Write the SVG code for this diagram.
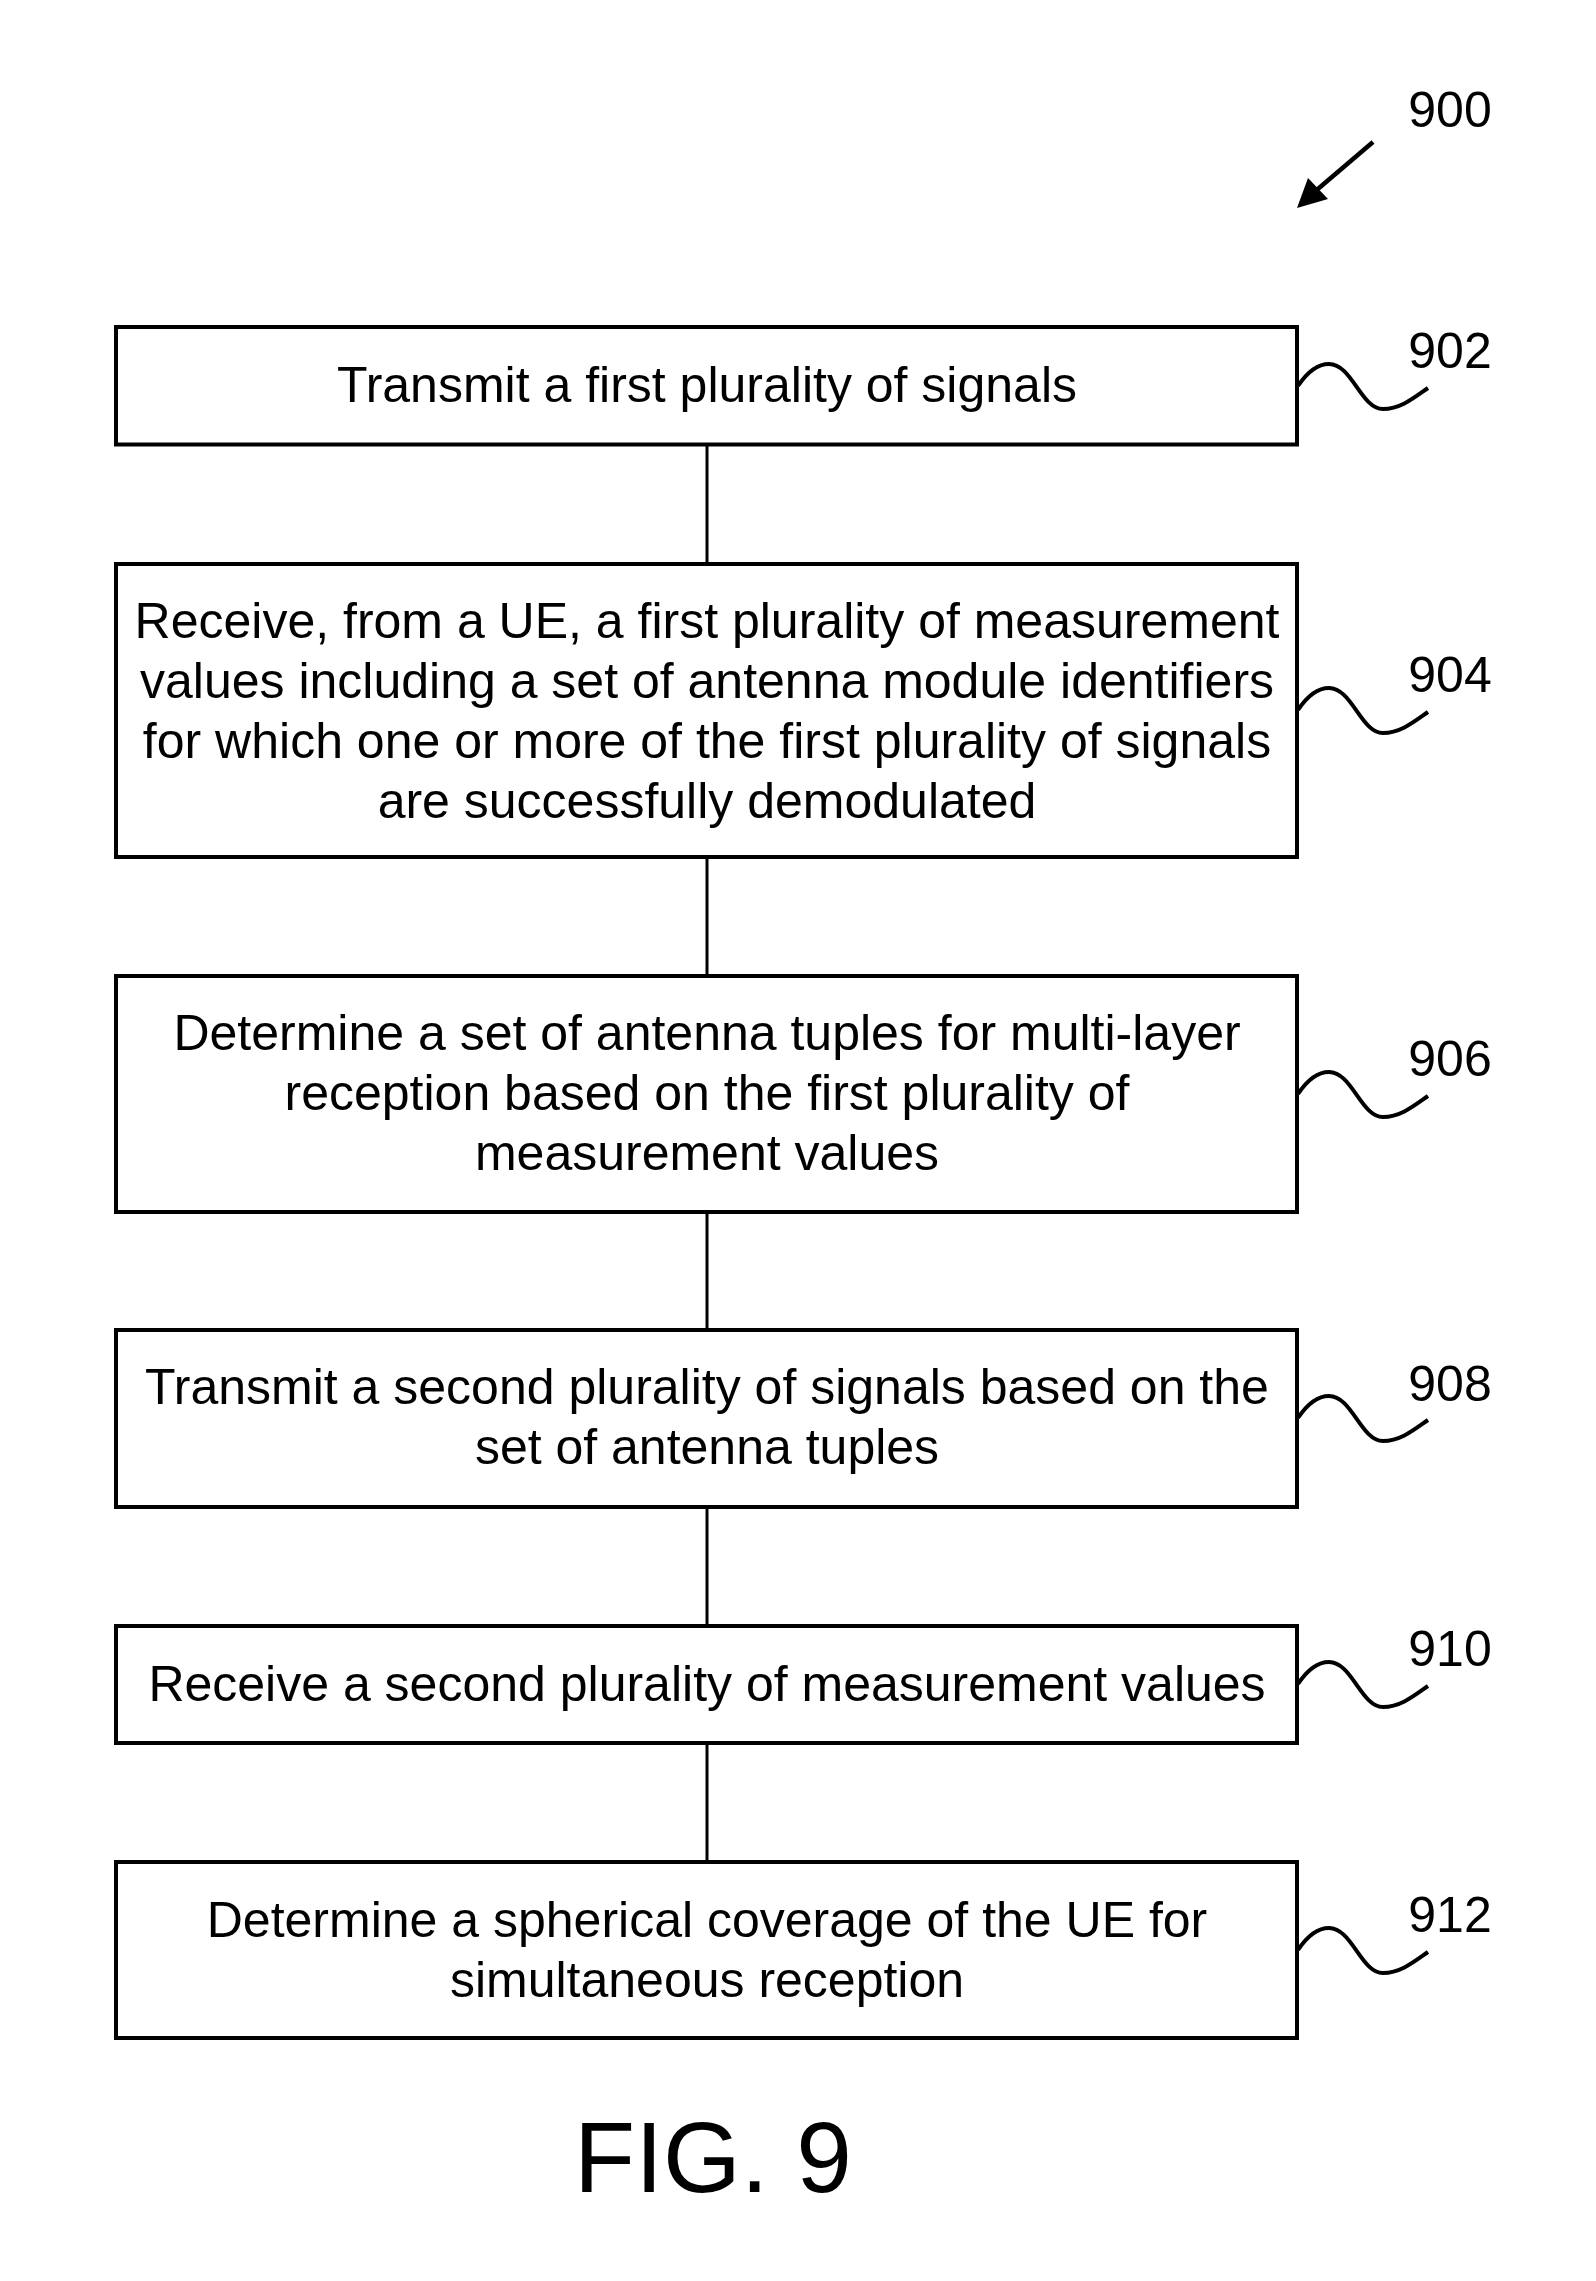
<svg xmlns="http://www.w3.org/2000/svg" width="1596" height="2281" viewBox="0 0 1596 2281">
<style>
.box{fill:#fff;stroke:#000;stroke-width:4}
.t{font-family:"Liberation Sans",Arial,sans-serif;font-size:50px;fill:#000;text-anchor:middle}
.lbl{font-family:"Liberation Sans",Arial,sans-serif;font-size:50px;fill:#000;text-anchor:middle}
.sq{fill:none;stroke:#000;stroke-width:4}
.conn{stroke:#000;stroke-width:3;fill:none}
</style>
<defs>
<path id="squig" d="M0,0 c8,-12 18,-22 31,-22 c23,0 32,45 54,45 c18,0 32,-12 45,-21"/>
</defs>
<rect width="1596" height="2281" fill="#fff"/>
<g id="connectors">
<line class="conn" x1="707" y1="444" x2="707" y2="564"/>
<line class="conn" x1="707" y1="857" x2="707" y2="976"/>
<line class="conn" x1="707" y1="1212" x2="707" y2="1330"/>
<line class="conn" x1="707" y1="1507" x2="707" y2="1626"/>
<line class="conn" x1="707" y1="1743" x2="707" y2="1862"/>
</g>
<g id="ref900">
<text class="lbl" x="1450" y="127">900</text>
<line x1="1373" y1="142" x2="1312" y2="194" stroke="#000" stroke-width="4.5"/>
<polygon points="1297,208 1308,178 1328,199" fill="#000"/>
</g>
<g id="n902">
<rect class="box" x="116" y="327" width="1181" height="117.5"/>
<text class="t" x="707" y="402">Transmit a first plurality of signals</text>
<use href="#squig" class="sq" x="1298" y="386"/>
<text class="lbl" x="1450" y="368">902</text>
</g>
<g id="n904">
<rect class="box" x="116" y="564" width="1181" height="293"/>
<text class="t" x="707" y="638">Receive, from a UE, a first plurality of measurement</text>
<text class="t" x="707" y="698">values including a set of antenna module identifiers</text>
<text class="t" x="707" y="758">for which one or more of the first plurality of signals</text>
<text class="t" x="707" y="818">are successfully demodulated</text>
<use href="#squig" class="sq" x="1298" y="710"/>
<text class="lbl" x="1450" y="692">904</text>
</g>
<g id="n906">
<rect class="box" x="116" y="976" width="1181" height="236"/>
<text class="t" x="707" y="1050">Determine a set of antenna tuples for multi-layer</text>
<text class="t" x="707" y="1110">reception based on the first plurality of</text>
<text class="t" x="707" y="1170">measurement values</text>
<use href="#squig" class="sq" x="1298" y="1094"/>
<text class="lbl" x="1450" y="1076">906</text>
</g>
<g id="n908">
<rect class="box" x="116" y="1330" width="1181" height="177"/>
<text class="t" x="707" y="1404">Transmit a second plurality of signals based on the</text>
<text class="t" x="707" y="1464">set of antenna tuples</text>
<use href="#squig" class="sq" x="1298" y="1418"/>
<text class="lbl" x="1450" y="1401">908</text>
</g>
<g id="n910">
<rect class="box" x="116" y="1626" width="1181" height="117"/>
<text class="t" x="707" y="1701">Receive a second plurality of measurement values</text>
<use href="#squig" class="sq" x="1298" y="1684"/>
<text class="lbl" x="1450" y="1666">910</text>
</g>
<g id="n912">
<rect class="box" x="116" y="1862" width="1181" height="176"/>
<text class="t" x="707" y="1937">Determine a spherical coverage of the UE for</text>
<text class="t" x="707" y="1997">simultaneous reception</text>
<use href="#squig" class="sq" x="1298" y="1950"/>
<text class="lbl" x="1450" y="1932">912</text>
</g>
<g id="caption">
<text x="713" y="2192" font-family="Liberation Sans, Arial, sans-serif" font-size="100" text-anchor="middle">FIG. 9</text>
</g>
</svg>
